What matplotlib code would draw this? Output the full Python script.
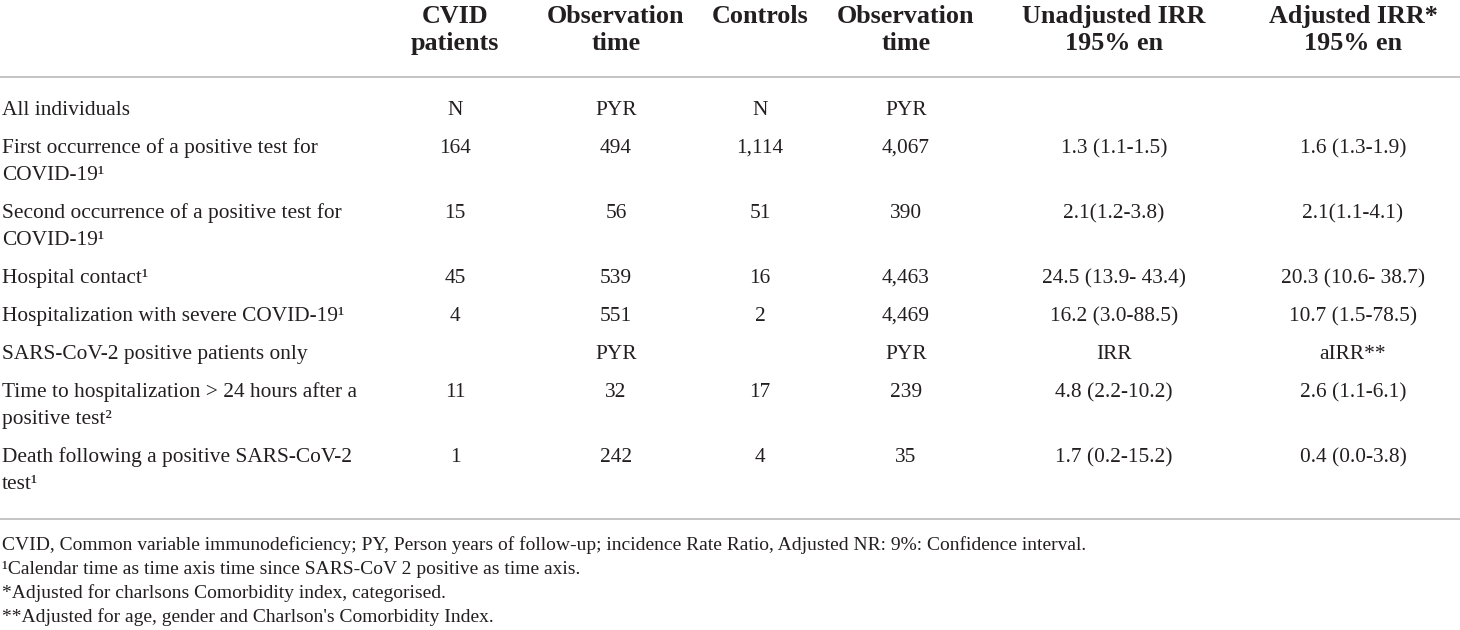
import matplotlib
matplotlib.use("Agg")
import matplotlib.pyplot as plt

# table content
row_labels = [
    ["All individuals"],
    ["First occurrence of a positive test for", "COVID-19\u00b9"],
    ["Second occurrence of a positive test for", "COVID-19\u00b9"],
    ["Hospital contact\u00b9"],
    ["Hospitalization with severe COVID-19\u00b9"],
    ["SARS-CoV-2 positive patients only"],
    ["Time to hospitalization > 24 hours after a", "positive test\u00b2"],
    ["Death following a positive SARS-CoV-2", "test\u00b9"],
]
cvid_n = ["N", "164", "15", "45", "4", "", "11", "1"]
cvid_pyr = ["PYR", "494", "56", "539", "551", "PYR", "32", "242"]
ctrl_n = ["N", "1,114", "51", "16", "2", "", "17", "4"]
ctrl_pyr = ["PYR", "4,067", "390", "4,463", "4,469", "PYR", "239", "35"]
irr = ["", "1.3 (1.1-1.5)", "2.1(1.2-3.8)", "24.5 (13.9- 43.4)",
       "16.2 (3.0-88.5)", "IRR", "4.8 (2.2-10.2)", "1.7 (0.2-15.2)"]
airr = ["", "1.6 (1.3-1.9)", "2.1(1.1-4.1)", "20.3 (10.6- 38.7)",
        "10.7 (1.5-78.5)", "aIRR**", "2.6 (1.1-6.1)", "0.4 (0.0-3.8)"]

headers = [
    ["CVID", "patients"],
    ["Observation", "time"],
    ["Controls"],
    ["Observation", "time"],
    ["Unadjusted IRR", "195% en"],
    ["Adjusted IRR*", "195% en"],
]
footnotes = [
    "CVID, Common variable immunodeficiency; PY, Person years of follow-up; "
    "incidence Rate Ratio, Adjusted NR: 9%: Confidence interval.",
    "\u00b9Calendar time as time axis time since SARS-CoV 2 positive as time axis.",
    "*Adjusted for charlsons Comorbidity index, categorised.",
    "**Adjusted for age, gender and Charlson's Comorbidity Index.",
]

# layout (pixels)
W, H = 1460, 630
col_x = [455, 616, 760, 906, 1114, 1353]
header_base = [23, 50]
first_base = 115
row_gap = 38
line_gap = 27
foot_base = 550
foot_gap = 24
text_color = "#231f20"
rule_color = "#c4c4c4"

plt.rcParams["font.family"] = ["Liberation Serif", "DejaVu Serif"]

fig = plt.figure(figsize=(W / 100, H / 100), dpi=100)
ax = fig.add_axes([0, 0, 1, 1])
ax.set_xlim(0, W)
ax.set_ylim(H, 0)
ax.axis("off")

# header
for x, lines in zip(col_x, headers):
    for i, s in enumerate(lines):
        ax.text(x, header_base[i], s, ha="center", va="baseline",
                fontsize=18.8, fontweight="bold", color=text_color)

ax.axhline(77, color=rule_color, lw=1.4)

# body
columns = [cvid_n, cvid_pyr, ctrl_n, ctrl_pyr, irr, airr]
y = first_base
for r, lines in enumerate(row_labels):
    for i, s in enumerate(lines):
        ax.text(2, y + i * line_gap, s, ha="left", va="baseline",
                fontsize=15.4, color=text_color)
    for x, col in zip(col_x, columns):
        ax.text(x, y, col[r], ha="center", va="baseline",
                fontsize=15.4, color=text_color)
    y += (len(lines) - 1) * line_gap + row_gap

ax.axhline(519, color=rule_color, lw=1.4)

for i, s in enumerate(footnotes):
    ax.text(2, foot_base + i * foot_gap, s, ha="left", va="baseline",
            fontsize=14, color=text_color)

fig.savefig("out.png", dpi=100)
